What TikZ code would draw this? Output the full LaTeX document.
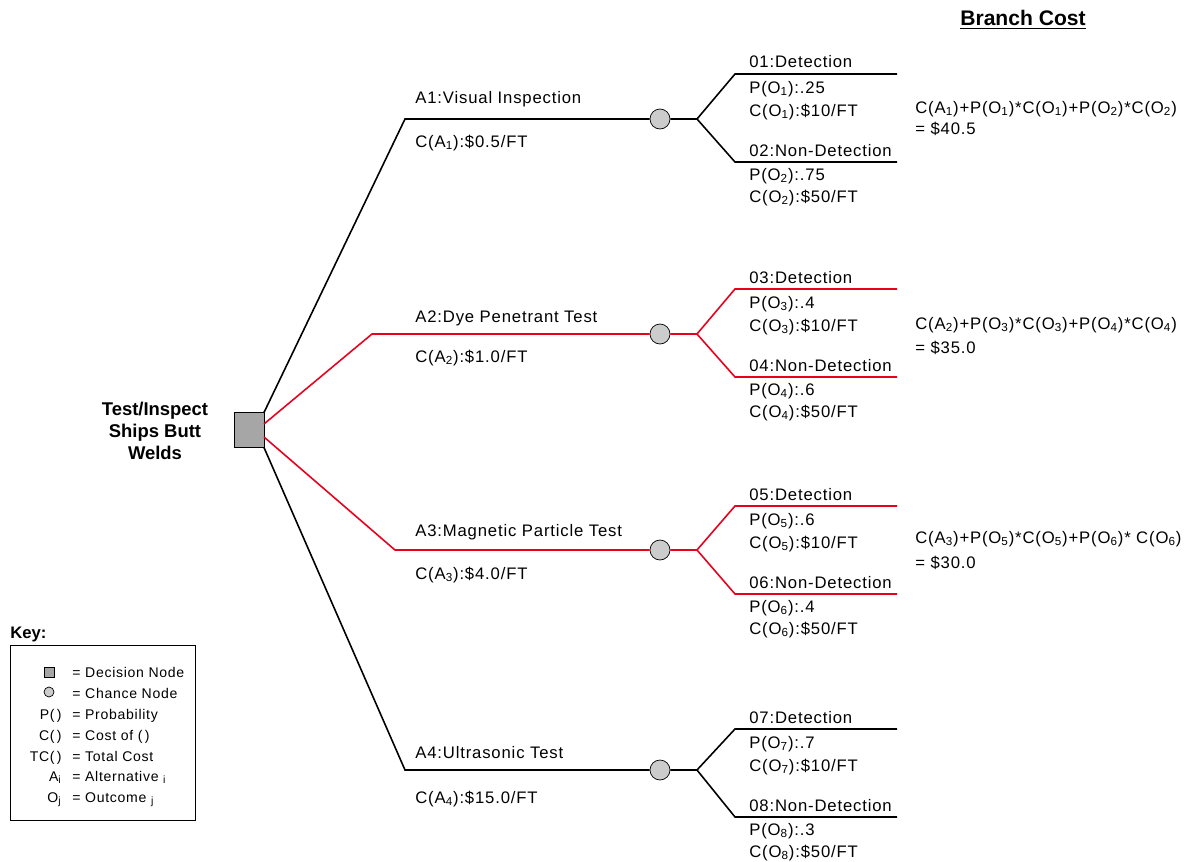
\documentclass[tikz,border=0pt]{standalone}
\usepackage{fontspec}
\setmainfont{Liberation Sans}
\newfontfamily\spaced[LetterSpace=5]{Liberation Sans}
\usepackage{xcolor}
\usetikzlibrary{positioning,calc}

\definecolor{branchred}{RGB}{232,0,28}
\newcommand{\sbs}[1]{\textsubscript{#1}}

\tikzset{
  txt/.style={anchor=base west, inner sep=0pt, font=\spaced\fontsize{9.5}{11}\selectfont},
  keytxt/.style={anchor=base west, inner sep=0pt, font=\spaced\fontsize{8}{9}\selectfont},
  keysym/.style={anchor=base east, inner sep=0pt, font=\spaced\fontsize{8}{9}\selectfont},
  branch/.style={line width=0.9pt},
  decision/.style={draw, fill=gray!70, minimum width=0.6cm, minimum height=0.7cm, inner sep=0pt},
  chance/.style={draw, circle, fill=gray!40, minimum size=0.4cm, inner sep=0pt}
}

\begin{document}
\begin{tikzpicture}[x=0.02cm, y=-0.02cm]
	\useasboundingbox (0,0) rectangle (1191,862);

	% decision node and title
	\node[decision] (dec) at (249,430) {};
	\node[align=center, inner sep=0pt, font=\fontsize{10.5}{12.5}\selectfont\bfseries] (title) at (155,431)
		{Test/Inspect\\Ships Butt\\Welds};
	\node[anchor=base, inner sep=0pt, font=\fontsize{12}{14}\selectfont\bfseries] (bc) at (1023,26)
		{\underline{Branch Cost}};

	% alternatives, chance nodes and outcomes
	\foreach \n/\y/\ys/\xs/\du/\dd/\col/\pa/\pb in {1/119/412.5/405/45/43/black/.25/.75,
			2/334/424/372/45/43/branchred/.4/.6,
			3/550/437/395/44/44/branchred/.6/.4,
			4/770/447.5/405/41/47/black/.7/.3} {
		\pgfmathtruncatemacro{\oa}{2*\n-1}
		\pgfmathtruncatemacro{\ob}{2*\n}
		\coordinate (s\n) at (264,\ys);
		\coordinate (a\n) at (\xs,\y);
		\node[chance] (c\n) at (660,\y) {};
		\coordinate (f\n) at (697,\y);
		\coordinate (u\n) at (735,\y-\du);
		\coordinate (d\n) at (735,\y+\dd);
		\coordinate (eu\n) at (897,\y-\du);
		\coordinate (ed\n) at (897,\y+\dd);
		\draw[branch, \col] (s\n) -- (a\n) -- (c\n);
		\draw[branch, \col] (c\n) -- (f\n) -- (u\n) -- (eu\n);
		\draw[branch, \col] (f\n) -- (d\n) -- (ed\n);
		\node[txt] (ou\n) at (749,\y-\du-6) {0\oa:Detection};
		\node[txt] (pu\n) at (749,\y-\du+19) {P(O\sbs{\oa}):\pa};
		\node[txt] (cu\n) at (749,\y-\du+42) {C(O\sbs{\oa}):\$10/FT};
		\node[txt] (od\n) at (749,\y+\dd-6) {0\ob:Non-Detection};
		\node[txt] (pd\n) at (749,\y+\dd+18) {P(O\sbs{\ob}):\pb};
		\node[txt] (cd\n) at (749,\y+\dd+40) {C(O\sbs{\ob}):\$50/FT};
	}
	\draw[branch] (dec.north east) -- (s1);
	\draw[branch] (dec.south east) -- (s4);

	% alternative labels
	\node[txt] (la1) at (415,103) {A1:Visual Inspection};
	\node[txt] (ca1) at (415,147) {C(A\sbs{1}):\$0.5/FT};
	\node[txt] (la2) at (415,322) {A2:Dye Penetrant Test};
	\node[txt] (ca2) at (415,362) {C(A\sbs{2}):\$1.0/FT};
	\node[txt] (la3) at (415,536) {A3:Magnetic Particle Test};
	\node[txt] (ca3) at (415,579) {C(A\sbs{3}):\$4.0/FT};
	\node[txt] (la4) at (415,758) {A4:Ultrasonic Test};
	\node[txt] (ca4) at (415,803) {C(A\sbs{4}):\$15.0/FT};

	% branch costs
	\node[txt] (bc1) at (915,113) {C(A\sbs{1})+P(O\sbs{1})*C(O\sbs{1})+P(O\sbs{2})*C(O\sbs{2})};
	\node[txt] (bv1) at (915,134) {= \$40.5};
	\node[txt] (bc2) at (915,329) {C(A\sbs{2})+P(O\sbs{3})*C(O\sbs{3})+P(O\sbs{4})*C(O\sbs{4})};
	\node[txt] (bv2) at (915,353) {= \$35.0};
	\node[txt] (bc3) at (915,543) {C(A\sbs{3})+P(O\sbs{5})*C(O\sbs{5})+P(O\sbs{6})* C(O\sbs{6})};
	\node[txt] (bv3) at (915,568) {= \$30.0};

	% key
	\node[anchor=base west, inner sep=0pt, font=\fontsize{9.5}{11}\selectfont\bfseries] (key) at (10,638) {Key:};
	\draw (10,645) rectangle (195,820);
	\node[draw, fill=gray!70, minimum size=0.2cm, inner sep=0pt] (ksq) at (49,672) {};
	\node[draw, circle, fill=gray!40, minimum size=0.2cm, inner sep=0pt] (kci) at (49,692) {};
	\node[keytxt] (k1) at (72,677) {= Decision Node};
	\node[keytxt] (k2) at (72,698) {= Chance Node};
	\node[keysym] (s3) at (62,719) {P(\,)};
	\node[keytxt] (k3) at (72,719) {= Probability};
	\node[keysym] (s4) at (62,740) {C(\,)};
	\node[keytxt] (k4) at (72,740) {= Cost of (\,)};
	\node[keysym] (s5) at (62,761) {TC(\,)};
	\node[keytxt] (k5) at (72,761) {= Total Cost};
	\node[keysym] (s6) at (62,781) {A\sbs{i}};
	\node[keytxt] (k6) at (72,781) {= Alternative \sbs{i}};
	\node[keysym] (s7) at (62,802) {O\sbs{j}};
	\node[keytxt] (k7) at (72,802) {= Outcome \sbs{j}};
\end{tikzpicture}
\end{document}
